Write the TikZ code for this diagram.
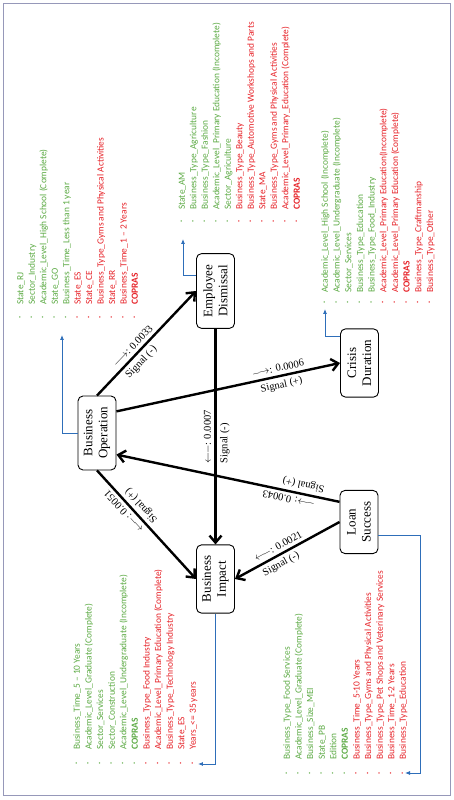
\documentclass[tikz,border=0pt]{standalone}
\usepackage{fontspec}
\setmainfont{Liberation Serif}
\newfontfamily\listfont{Carlito}
\usetikzlibrary{arrows.meta,calc}

\definecolor{itemgreen}{RGB}{92,170,68}
\definecolor{itemred}{RGB}{230,34,40}
\definecolor{linkblue}{RGB}{46,110,185}
\definecolor{framegray}{RGB}{150,152,185}

\tikzset{
  factor/.style={draw, rounded corners=5pt, line width=0.9pt, align=center,
    font=\fontsize{13}{15}\selectfont, inner xsep=11pt, inner ysep=4pt, minimum height=38pt},
  effect/.style={line width=2.4pt, -{Straight Barb[length=7pt,width=12pt]}},
  weight/.style={font=\fontsize{10.5}{12}\selectfont, sloped},
  feed/.style={linkblue, line width=0.8pt, -{Latex[length=5pt,width=4pt]}},
  entry/.style={anchor=base west, inner sep=0pt, font=\listfont\fontsize{9.4}{11.6}\selectfont},
  listdot/.style={inner sep=0pt, font=\fontsize{6}{6}\selectfont}
}

\begin{document}
\begin{tikzpicture}[x=1pt,y=1pt]
\begin{scope}[rotate=90, transform shape]
  \useasboundingbox (0,0) rectangle (800,454);
  % frame
  \draw[framegray, line width=1pt] (4,4) rectangle (796,450);
  % factors
  \node[factor] (BO) at (367,357) {Business\\Operation};
  \node[factor] (ED) at (509,238.5) {Employee\\Dismissal};
  \node[factor] (CD) at (437,94.5) {Crisis\\Duration};
  \node[factor] (LS) at (278,95) {Loan\\Success};
  \node[factor] (BI) at (221,238.5) {Business\\Impact};
  % effects between factors
  \draw[effect] (BO.east) -- node[weight, above, pos=0.42] {$\longrightarrow$: 0.0033}
    node[weight, below, pos=0.38] {Signal (-)} (ED.north);
  \draw[effect] (BO.-42) -- node[weight, above, pos=0.73] {$\longrightarrow$: 0.0006}
    node[weight, below, pos=0.73] {Signal (+)} (CD.north);
  \draw[effect] (ED.west) -- node[weight, above, pos=0.5] {$\longleftarrow$: 0.0007}
    node[weight, below, pos=0.53] {Signal (-)} (BI.east);
  \draw[effect] (LS.44) -- node[weight, above, pos=0.22] {$\longrightarrow$: 0.0043}
    node[weight, below, pos=0.17] {Signal (+)} (BO.-138);
  \draw[effect] (BO.west) -- node[weight, above, pos=0.33] {$\longleftarrow$: 0.0051}
    node[weight, below, pos=0.38] {Signal (+)} (BI.north);
  \draw[effect] (LS.north) -- node[weight, above, pos=0.55] {$\longleftarrow$: 0.0021}
    node[weight, below, pos=0.6] {Signal (-)} (BI.south);
  % links to the lists
  \coordinate (BOtip) at (465,392);
  \coordinate (EDtip) at (561,271);
  \coordinate (CDtip) at (491,129);
  \coordinate (BItip) at (36,256);
  \coordinate (LSbend) at (27,34);
  \coordinate (LStip) at (27,49);
  \draw[feed] (BO.north) |- (BOtip);
  \draw[feed] ($(ED.north)+(16,0)$) |- (EDtip);
  \draw[feed] ($(CD.north)+(27,0)$) |- (CDtip);
  \draw[feed] (BI.west) -| (BItip);
  \draw[feed] ($(LS.south)+(-13,0)$) |- (LSbend) -- (LStip);
  % business operation list
  \foreach \c/\t [count=\i from 0] in {itemgreen/State\_RJ, itemgreen/Sector\_Industry,
      itemgreen/Academic\_Level\_High School (Complete), itemgreen/State\_GO,
      itemgreen/Business\_Time\_Less than 1 year, itemred/State\_ES, itemred/State\_CE,
      itemred/Business\_Type\_Gyms and Physical Activities, itemred/State\_RR,
      itemred/Business\_Time\_1 – 2 Years, itemred/\textbf{COPRAS}}{
    \node[listdot, text=\c] (BOd\i) at (483,{433.5-11.45*\i}) {\textbullet};
    \node[entry, text=\c] (BOe\i) at (495,{430.5-11.45*\i}) {\t};
  }
  % employee dismissal list
  \foreach \c/\t [count=\i from 0] in {itemgreen/State\_AM, itemgreen/Business\_Type\_Agriculture,
      itemgreen/Business\_Type\_Fashion, itemgreen/Academic\_Level\_Primary Education (Incomplete),
      itemgreen/Sector\_Agriculture, itemred/Business\_Type\_Beauty,
      itemred/Business\_Type\_Automotive Workshops and Parts, itemred/State\_MA,
      itemred/Business\_Type\_Gyms and Physical Activities,
      itemred/Academic\_Level\_Primary\_Education (Complete), itemred/\textbf{COPRAS}}{
    \node[listdot, text=\c] (EDd\i) at (579,{272-11.5*\i}) {\textbullet};
    \node[entry, text=\c] (EDe\i) at (590,{269-11.5*\i}) {\t};
  }
  % crisis duration list
  \foreach \c/\t [count=\i from 0] in {itemgreen/Academic\_Level\_High School (Incomplete),
      itemgreen/Academic\_Level\_Undergraduate (Incomplete), itemgreen/Sector\_Services,
      itemgreen/Business\_Type\_Education, itemgreen/Business\_Type\_Food\_Industry,
      itemred/Academic\_Level\_Primary Education(Incomplete),
      itemred/Academic\_Level\_Primary Education (Complete), itemred/\textbf{COPRAS},
      itemred/Business\_Type\_Craftmanship, itemred/Business\_Type\_Other}{
    \node[listdot, text=\c] (CDd\i) at (498,{129-11.67*\i}) {\textbullet};
    \node[entry, text=\c] (CDe\i) at (507,{126-11.67*\i}) {\t};
  }
  % business impact list
  \foreach \c/\t [count=\i from 0] in {itemgreen/Business\_Time\_5 – 10 Years,
      itemgreen/Academic\_Level\_Graduate (Complete), itemgreen/Sector\_Services,
      itemgreen/Sector\_Construction, itemgreen/Academic\_Level\_Undergraduate (Incomplete),
      itemgreen/\textbf{COPRAS}, itemred/Business\_Type\_Food Industry,
      itemred/Academic\_Level\_Primary Education (Complete),
      itemred/Business\_Type\_Technology Industry, itemred/State\_ES,
      itemred/Years\_<= 35 years}{
    \node[listdot, text=\c] (BId\i) at (37,{377-11.6*\i}) {\textbullet};
    \node[entry, text=\c] (BIe\i) at (50,{374-11.6*\i}) {\t};
  }
  % loan success list
  \foreach \c/\t [count=\i from 0] in {itemgreen/Business\_Type\_Food Services,
      itemgreen/Academic\_Level\_Graduate (Complete), itemgreen/Business\_Size\_MEI,
      itemgreen/State\_PB, itemgreen/Edition, itemgreen/\textbf{COPRAS},
      itemred/Business\_Time\_5-10 Years, itemred/Business\_Type\_Gyms and Physical Activities,
      itemred/Business\_Type\_Pet Shops and Veterinary Services,
      itemred/Business\_Time\_1-2 Years, itemred/Business\_Type\_Education}{
    \node[listdot, text=\c] (LSd\i) at (27,{167-11.6*\i}) {\textbullet};
    \node[entry, text=\c] (LSe\i) at (40,{164-11.6*\i}) {\t};
  }
\end{scope}
\end{tikzpicture}
\end{document}
